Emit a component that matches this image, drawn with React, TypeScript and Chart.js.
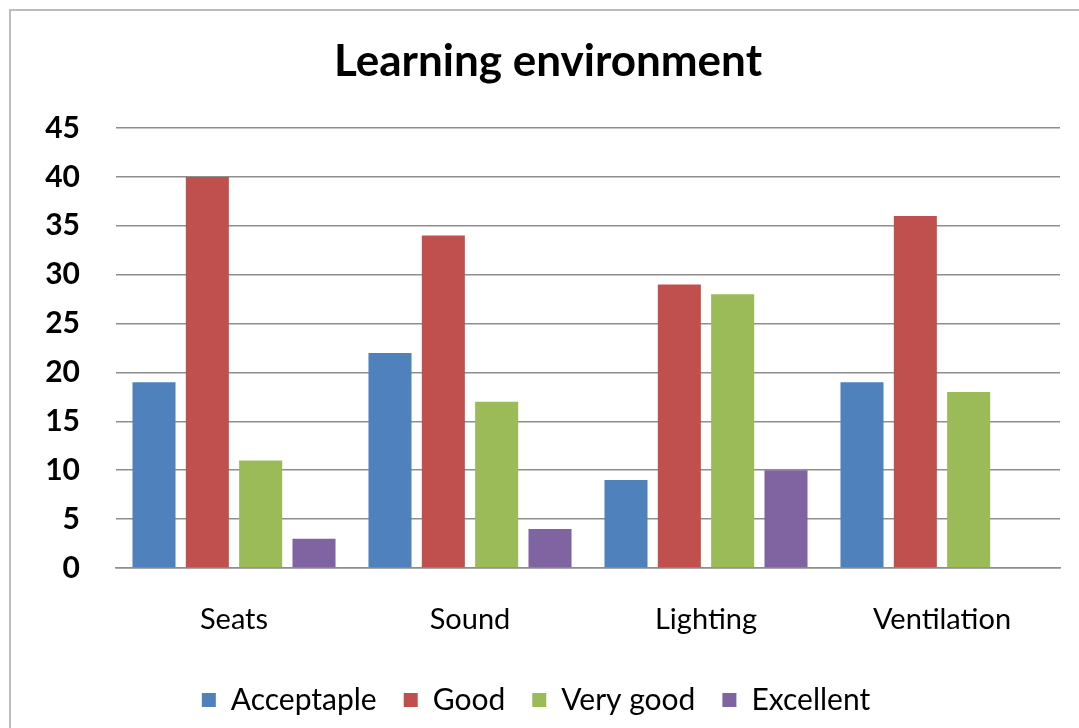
import React, { useEffect, useRef } from "react";
import { Chart, registerables } from "chart.js";

Chart.register(...registerables);

const categories = ["Seats", "Sound", "Lighting", "Ventilation"];
const seriesNames = ["Acceptaple", "Good", "Very good", "Excellent"];
const acceptaple = [19, 22, 9, 19];
const good = [40, 34, 29, 36];
const veryGood = [11, 17, 28, 18];
const excellent = [3, 4, 10, 0];
const colors = ["#4F81BD", "#C0504D", "#9BBB59", "#8064A2"];
const yMin = 0;
const yMax = 45;
const yStep = 5;

const FONT = "Lato, 'Open Sans', sans-serif";

const framePlugin = {
  id: "frame",
  beforeDraw(chart: any) {
    const ctx = chart.ctx;
    ctx.save();
    ctx.fillStyle = "#ffffff";
    ctx.fillRect(0, 0, chart.width, chart.height);
    ctx.strokeStyle = "#bdbdbd";
    ctx.lineWidth = 2;
    ctx.strokeRect(10, 10, chart.width + 20, chart.height + 20);
    ctx.restore();
  },
};

// nudge title and legend horizontally to match the original's centring
const shiftPlugin = {
  id: "shiftBlocks",
  afterLayout(chart: any) {
    if (chart.titleBlock) {
      chart.titleBlock.left += 18;
      chart.titleBlock.right += 18;
    }
    if (chart.legend) {
      chart.legend.left += 6;
      chart.legend.right += 6;
    }
  },
};

export default function App() {
  const ref = useRef<HTMLCanvasElement | null>(null);
  useEffect(() => {
    if (!ref.current) return;
    const seriesValues = [acceptaple, good, veryGood, excellent];
    const chart = new Chart(ref.current, {
      type: "bar",
      data: {
        labels: categories,
        datasets: seriesNames.map((name, i) => ({
          label: name,
          data: seriesValues[i],
          backgroundColor: colors[i],
          borderWidth: 0,
          categoryPercentage: 0.904,
          barPercentage: 0.807,
        })),
      },
      options: {
        responsive: false,
        animation: false,
        layout: { padding: { left: 0, right: 19, top: 0, bottom: 3 } },
        plugins: {
          title: {
            display: true,
            text: "Learning environment",
            color: "#000",
            font: { family: FONT, size: 44, weight: "bold", lineHeight: 1.2 },
            padding: { top: 35.6, bottom: 39.6 },
          },
          legend: {
            position: "bottom",
            labels: {
              color: "#000",
              font: { family: FONT, size: 30 },
              boxWidth: 14,
              boxHeight: 14,
              padding: 27,
            },
          },
          tooltip: { enabled: false },
        },
        scales: {
          x: {
            grid: { display: false, drawTicks: false },
            border: { display: true, color: "#8e8e8e", width: 1.5 },
            ticks: {
              color: "#000",
              font: { family: FONT, size: 29 },
              padding: 34.5,
            },
            afterFit(scale: any) {
              scale.height = 90;
            },
          },
          y: {
            min: yMin,
            max: yMax,
            grid: { color: "#8e8e8e", lineWidth: 1.5, drawTicks: false },
            border: { display: false },
            ticks: {
              stepSize: yStep,
              color: "#000",
              font: { family: FONT, size: 30, weight: "bold" },
              padding: 36,
            },
            afterFit(scale: any) {
              scale.width = 116;
            },
          },
        },
      },
      plugins: [framePlugin, shiftPlugin],
    });
    return () => chart.destroy();
  }, []);
  return (
    <div style={{ position: "fixed", left: 0, top: 0, width: 1079, height: 728 }}>
      <canvas ref={ref} width={1079} height={728} />
    </div>
  );
}
